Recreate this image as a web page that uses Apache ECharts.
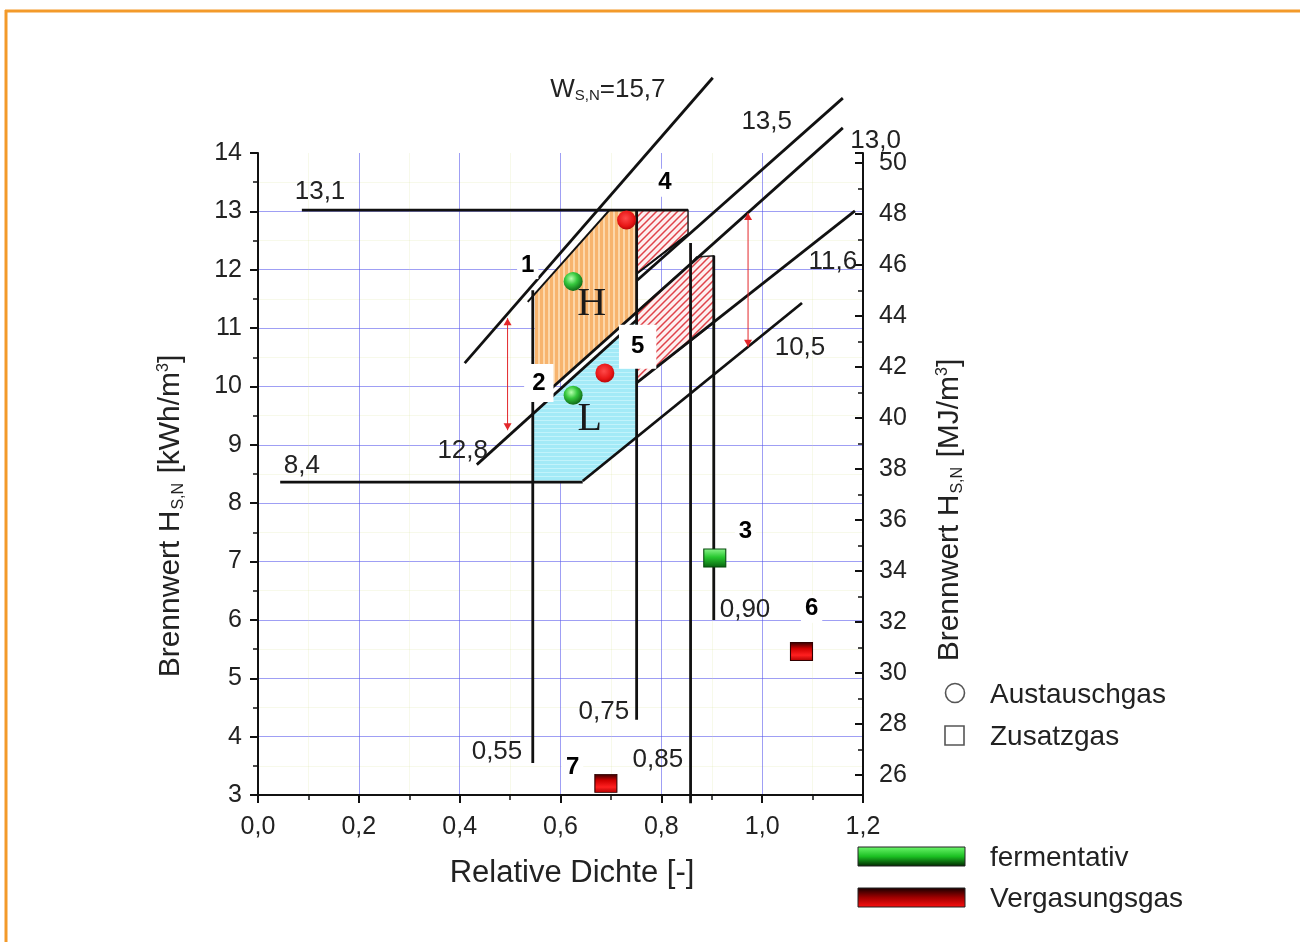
<!DOCTYPE html>
<html><head><meta charset="utf-8">
<script src="https://cdn.jsdelivr.net/npm/echarts@6/dist/echarts.min.js"></script>
<style>html,body{margin:0;padding:0;background:#fff}#c{width:1300px;height:942px}</style>
</head><body><div id="c"></div>
<script>
// ---------- data (relative density d, Brennwert kWh/m3) ----------
const xTickLabels = ['0,0','0,2','0,4','0,6','0,8','1,0','1,2'];
// straight limit lines: [d, H]
const line131 = [[0.087,13.02],[0.853,13.02]];
const line84  = [[0.044,8.36],[0.644,8.36]];
const w157      = [[0.410,10.40],[0.902,15.29]];
const w157inner = [[0.535,11.45],[0.697,13.02]];
const w135      = [[0.751,11.81],[1.160,14.94]];
const w135inner = [[0.751,11.93],[0.853,12.61]];
const w130      = [[0.559,9.79],[1.160,14.43]];
const w128      = [[0.434,8.66],[0.751,11.14]];
const w116      = [[0.751,10.06],[1.184,13.01]];
const w105      = [[0.644,8.38],[1.079,11.43]];
const d055 = [[0.545,11.65],[0.545,3.55]];
const d075 = [[0.751,13.02],[0.751,4.29]];
const d085 = [[0.858,12.46],[0.858,2.86]];
const d090 = [[0.904,12.24],[0.904,6.00]];
// areas
const regionH = [[0.549,11.59],[0.697,13.02],[0.751,13.02],[0.751,11.28],[0.559,9.79],[0.549,9.79]];
const regionL = [[0.545,9.53],[0.751,11.14],[0.751,9.13],[0.644,8.38],[0.545,8.38]];
const region4 = [[0.751,13.02],[0.853,13.02],[0.853,12.61],[0.751,11.93]];
const region5 = [[0.751,11.28],[0.860,12.12],[0.870,12.22],[0.904,12.24],[0.904,11.09],[0.751,10.06]];
// gases
const austauschFerment   = [[0.625,11.80],[0.625,9.85]];
const austauschVergasung = [[0.731,12.85],[0.688,10.23]];
const zusatzFerment      = [[0.906,7.06]];
const zusatzVergasung    = [[1.078,5.46],[0.690,3.20]];
// range arrows: [d, Hlow, Hhigh]
const rangeArrows = [[0.495,9.25,11.17],[0.972,10.68,12.97]];
// annotations
const gasNumbers  = ['1','2','3','4','5','6','7'];
const gasNumberAt = [[0.535,12.08],[0.557,10.06],[0.967,7.52],[0.807,13.49],[0.753,10.68],[1.098,6.19],[0.624,3.48]];
const lineLabelText = ['13,1','8,4','12,8','13,5','13,0','11,6','10,5','0,55','0,75','0,85','0,90'];
const lineLabelAt = [[0.123,13.33],[0.087,8.64],[0.406,8.89],[1.009,14.53],[1.225,14.21],[1.140,12.13],[1.075,10.66],[0.474,3.74],[0.686,4.42],[0.793,3.60],[0.966,6.17]];
const wobbeLabelAt = [0.694,15.08];
const familyText = ['H','L'];
const familyAt = [[0.662,11.40],[0.658,9.43]];

// ---------- rendering ----------
const FONT = 'Liberation Sans, Arial, sans-serif';
const TXT = '#222';
const chart = echarts.init(document.getElementById('c'), null, {renderer:'canvas'});

function makeTile(w,h,draw){const c=document.createElement('canvas');c.width=w;c.height=h;draw(c.getContext('2d'));return c;}
const orangeTile = makeTile(5,4,g=>{g.fillStyle='#fcd7aa';g.fillRect(0,0,5,4);g.fillStyle='#f7b46e';g.fillRect(0,0,3,4);});
const cyanTile = makeTile(4,4,g=>{g.fillStyle='#a3eaf7';g.fillRect(0,0,4,4);g.fillStyle='#c2f3fb';g.fillRect(0,0,4,1);});
const hatchTile = makeTile(7,7,g=>{g.fillStyle='#fdf0f0';g.fillRect(0,0,7,7);g.strokeStyle='#e0434a';g.lineWidth=1.5;g.beginPath();
  g.moveTo(-1,8);g.lineTo(8,-1);g.moveTo(-1,1);g.lineTo(1,-1);g.moveTo(6,8);g.lineTo(8,6);g.stroke();});

function polygonSeries(name, verts, fill, stroke){
  return {type:'custom', name, z:1, silent:true, clip:false, data:[verts[0]],
    renderItem:(p,api)=>({type:'polygon', shape:{points:verts.map(v=>api.coord(v))},
      style:{fill:fill, stroke:stroke||null, lineWidth:1.5}})};
}
function lineSeries(name, pts, w){
  return {type:'line', name, data:pts, symbol:'none', showSymbol:false, clip:false, silent:true, z:3,
    lineStyle:{color:'#111', width:w||2.8}};
}
const greenBall = {type:'radial', x:0.4, y:0.35, r:0.7, colorStops:[{offset:0,color:'#b6ffae'},{offset:0.45,color:'#36c83e'},{offset:1,color:'#0a5e12'}]};
const redBall = {type:'radial', x:0.45, y:0.4, r:0.7, colorStops:[{offset:0,color:'#ff4a4a'},{offset:0.6,color:'#e81616'},{offset:1,color:'#a00000'}]};
const greenSq = {type:'linear', x:0, y:0, x2:0, y2:1, colorStops:[{offset:0,color:'#8cf58c'},{offset:0.45,color:'#28c830'},{offset:1,color:'#07610f'}]};
const redSq = {type:'linear', x:0, y:0, x2:0, y2:1, colorStops:[{offset:0,color:'#2a0000'},{offset:0.35,color:'#d00000'},{offset:0.7,color:'#ff2020'},{offset:1,color:'#b00000'}]};
const hidden = {color:'rgba(0,0,0,0)', opacity:1};

const series = [
  polygonSeries('H', regionH, {image:orangeTile, repeat:'repeat'}),
  polygonSeries('L', regionL, {image:cyanTile, repeat:'repeat'}),
  polygonSeries('4', region4, {image:hatchTile, repeat:'repeat'}, '#222'),
  polygonSeries('5', region5, {image:hatchTile, repeat:'repeat'}, '#222'),
  lineSeries('13,1', line131), lineSeries('8,4', line84),
  lineSeries('15,7', w157), lineSeries('15,7i', w157inner, 2),
  lineSeries('13,5', w135), lineSeries('13,5i', w135inner, 2),
  lineSeries('13,0', w130), lineSeries('12,8', w128),
  lineSeries('11,6', w116), lineSeries('10,5', w105),
  lineSeries('0,55', d055), lineSeries('0,75', d075), lineSeries('0,85', d085), lineSeries('0,90', d090),
  {type:'custom', name:'Bereich', z:4, silent:true, clip:false, data:rangeArrows, encode:{x:0, y:[1,2]},
    renderItem:(p,api)=>{
      const a=api.coord([api.value(0),api.value(1)]), b=api.coord([api.value(0),api.value(2)]);
      const s=4, c='#e3272b';
      return {type:'group', children:[
        {type:'line', shape:{x1:a[0],y1:a[1],x2:b[0],y2:b[1]}, style:{stroke:c, lineWidth:1}},
        {type:'polygon', shape:{points:[[b[0],b[1]],[b[0]-s,b[1]+7],[b[0]+s,b[1]+7]]}, style:{fill:c}},
        {type:'polygon', shape:{points:[[a[0],a[1]],[a[0]-s,a[1]-7],[a[0]+s,a[1]-7]]}, style:{fill:c}}
      ]};
    }},
  {type:'scatter', name:'Austausch fermentativ', z:5, clip:false, silent:true, symbol:'circle', symbolSize:19,
    itemStyle:{color:greenBall, opacity:1}, data:austauschFerment},
  {type:'scatter', name:'Austausch Vergasung', z:5, clip:false, silent:true, symbol:'circle', symbolSize:19,
    itemStyle:{color:redBall, opacity:1}, data:austauschVergasung},
  {type:'scatter', name:'Zusatz fermentativ', z:5, clip:false, silent:true, symbol:'rect', symbolSize:[22,18],
    itemStyle:{color:greenSq, borderColor:'#064a0c', borderWidth:1, opacity:1}, data:zusatzFerment},
  {type:'scatter', name:'Zusatz Vergasung', z:5, clip:false, silent:true, symbol:'rect', symbolSize:[22,18],
    itemStyle:{color:redSq, borderColor:'#300', borderWidth:1, opacity:1}, data:zusatzVergasung},
  {type:'scatter', name:'lineLabels', z:6, clip:false, silent:true, symbolSize:1, itemStyle:hidden,
    label:{show:true, position:'inside', formatter:'{b}', fontSize:26, color:TXT, fontFamily:FONT},
    data:lineLabelText.map((t,i)=>({name:t, value:lineLabelAt[i]})).concat([{name:'W', value:wobbeLabelAt,
      label:{formatter:'{a|W}{s|S,N}{a|=15,7}', rich:{a:{fontSize:26, color:TXT, fontFamily:FONT}, s:{fontSize:15, color:TXT, fontFamily:FONT, verticalAlign:'bottom', padding:[11,0,0,0]}}}}])},
  {type:'scatter', name:'familyLabels', z:6, clip:false, silent:true, symbolSize:1, itemStyle:hidden,
    label:{show:true, position:'inside', formatter:'{b}', fontSize:40, color:'#1a1a1a', fontFamily:'Liberation Serif, Times New Roman, serif'},
    data:familyText.map((t,i)=>({name:t, value:familyAt[i]}))},
  {type:'scatter', name:'gasNumbers', z:7, clip:false, silent:true, symbolSize:1, itemStyle:hidden,
    label:{show:true, position:'inside', formatter:'{b}', fontSize:24, fontWeight:'bold', color:'#000', fontFamily:FONT, backgroundColor:'#fff', padding:[2,4]},
    data:gasNumbers.map((t,i)=>{
      const it={name:t, value:gasNumberAt[i]};
      if(t==='2') it.label={padding:[7,8]};
      if(t==='5') it.label={padding:[10,12]};
      return it;})}
];

const axisLineStyle = {color:'#111', width:2};
const gridBlue = 'rgba(80,80,235,0.55)';
const gridFaint = 'rgba(215,225,150,0.2)';
const option = {
  animation:false,
  backgroundColor:'#fff',
  grid:{left:258, right:437, top:153, bottom:147, containLabel:false, outerBoundsMode:'none'},
  xAxis:{type:'value', min:0, max:1.2, interval:0.2,
    axisLine:{show:true, onZero:false, lineStyle:axisLineStyle},
    axisTick:{show:true, length:8, lineStyle:axisLineStyle},
    minorTick:{show:true, splitNumber:2, length:5, lineStyle:{color:'#111', width:1.5}},
    axisLabel:{formatter:(v)=>xTickLabels[Math.round(v/0.2)], fontSize:25, color:TXT, margin:20, fontFamily:FONT},
    splitLine:{show:true, showMinLine:false, lineStyle:{color:gridBlue, width:1}},
    minorSplitLine:{show:true, lineStyle:{color:gridFaint, width:1}}},
  yAxis:[
    {type:'value', position:'left', min:3, max:14, interval:1,
      axisLine:{show:true, onZero:false, lineStyle:axisLineStyle},
      axisTick:{show:true, length:8, lineStyle:axisLineStyle},
      minorTick:{show:true, splitNumber:2, length:5, lineStyle:{color:'#111', width:1.5}},
      axisLabel:{fontSize:25, color:TXT, margin:16, fontFamily:FONT},
      splitLine:{show:true, showMinLine:false, showMaxLine:false, lineStyle:{color:gridBlue, width:1}},
      minorSplitLine:{show:true, lineStyle:{color:gridFaint, width:1}}},
    {type:'value', position:'right', min:25.215, max:50.392, splitNumber:12, alignTicks:false,
      axisLine:{show:true, onZero:false, lineStyle:axisLineStyle},
      axisTick:{show:true, inside:true, length:8, lineStyle:axisLineStyle},
      minorTick:{show:true, splitNumber:2, length:5, lineStyle:{color:'#111', width:1.5}},
      axisLabel:{fontSize:25, color:TXT, margin:16, fontFamily:FONT,
        formatter:(v)=>{const r=Math.round(v); return (Math.abs(v-r)<1e-6 && r%2===0)? String(r):'';}},
      splitLine:{show:false}}
  ],
  series:series,
  graphic:[
    {type:'line', shape:{x1:5,y1:11,x2:1300,y2:11}, style:{stroke:'#f39a2a', lineWidth:3}, silent:true},
    {type:'line', shape:{x1:6,y1:10,x2:6,y2:942}, style:{stroke:'#f39a2a', lineWidth:3}, silent:true},
    {type:'text', x:572, y:873, silent:true, style:{text:'Relative Dichte [-]', font:'31px '+FONT, fill:TXT, align:'center', verticalAlign:'middle'}},
    {type:'text', x:171, y:516, rotation:Math.PI/2, silent:true, style:{text:'Brennwert H{s|S,N} [kWh/m{p|3}]', font:'30px '+FONT, fill:TXT, align:'center', verticalAlign:'middle',
      rich:{s:{fontSize:16, fill:TXT, fontFamily:FONT, verticalAlign:'bottom', padding:[15,1,0,1]}, p:{fontSize:16, fill:TXT, fontFamily:FONT, verticalAlign:'top', padding:[0,0,13,0]}}}},
    {type:'text', x:950, y:510, rotation:Math.PI/2, silent:true, style:{text:'Brennwert H{s|S,N} [MJ/m{p|3}]', font:'30px '+FONT, fill:TXT, align:'center', verticalAlign:'middle',
      rich:{s:{fontSize:16, fill:TXT, fontFamily:FONT, verticalAlign:'bottom', padding:[15,1,0,1]}, p:{fontSize:16, fill:TXT, fontFamily:FONT, verticalAlign:'top', padding:[0,0,13,0]}}}},
    {type:'circle', shape:{cx:955, cy:693, r:9.5}, style:{fill:'none', stroke:'#555', lineWidth:1.6}, silent:true},
    {type:'text', x:990, y:695, silent:true, style:{text:'Austauschgas', font:'28px '+FONT, fill:TXT, verticalAlign:'middle'}},
    {type:'rect', shape:{x:945, y:726, width:19, height:19}, style:{fill:'none', stroke:'#555', lineWidth:1.6}, silent:true},
    {type:'text', x:990, y:737, silent:true, style:{text:'Zusatzgas', font:'28px '+FONT, fill:TXT, verticalAlign:'middle'}},
    {type:'rect', shape:{x:858, y:847, width:107, height:19}, silent:true, style:{stroke:'#222', lineWidth:1,
      fill:{type:'linear', x:0, y:0, x2:0, y2:1, colorStops:[{offset:0,color:'#6ef86e'},{offset:0.5,color:'#1bbf22'},{offset:1,color:'#002400'}]}}},
    {type:'text', x:990, y:858, silent:true, style:{text:'fermentativ', font:'28px '+FONT, fill:TXT, verticalAlign:'middle'}},
    {type:'rect', shape:{x:858, y:888, width:107, height:19}, silent:true, style:{stroke:'#222', lineWidth:1,
      fill:{type:'linear', x:0, y:0, x2:0, y2:1, colorStops:[{offset:0,color:'#120000'},{offset:0.5,color:'#a00000'},{offset:1,color:'#ff1010'}]}}},
    {type:'text', x:990, y:899, silent:true, style:{text:'Vergasungsgas', font:'28px '+FONT, fill:TXT, verticalAlign:'middle'}}
  ]
};
chart.setOption(option);
</script></body></html>
